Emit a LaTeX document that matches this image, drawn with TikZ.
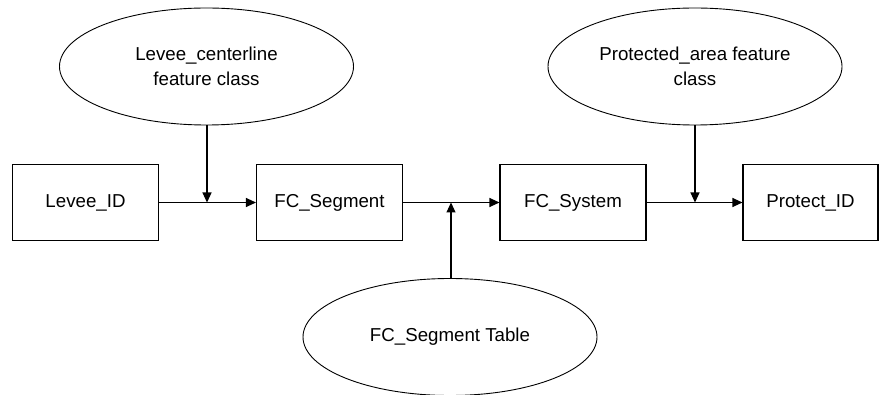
\documentclass[tikz,border=0pt]{standalone}
\usepackage{fontspec}
\setmainfont{Liberation Sans}
\usetikzlibrary{shapes.geometric,arrows.meta}
\begin{document}
\begin{tikzpicture}[x=1pt,y=-1pt,
  box/.style={draw,line width=1.1pt,minimum width=146pt,minimum height=76pt,inner sep=0pt,font=\fontsize{18.7}{22}\selectfont},
  oval/.style={draw,ellipse,line width=0.9pt,minimum width=294pt,minimum height=117pt,inner sep=0pt,align=center,font=\fontsize{18.7}{25}\selectfont},
  conn/.style={line width=1.1pt,-{Triangle[length=10pt,width=9pt]}},
  plain/.style={line width=1.1pt}]
\useasboundingbox (0,0) rectangle (882,395);
\node[box] (levee) at (85.5,202.5) {Levee\_ID};
\node[box] (seg) at (329.5,202.5) {FC\_Segment};
\node[box] (sys) at (573,202.5) {FC\_System};
\node[box,minimum width=135pt] (prot) at (810.5,202.5) {Protect\_ID};
\node[oval] (lc) at (206.5,66.5) {Levee\_centerline\\feature class};
\node[oval] (pa) at (695,66.5) {Protected\_area feature\\class};
\node[oval] (tab) at (450,337) {FC\_Segment Table};
\coordinate (j1) at (207,202.5);
\coordinate (j2) at (451,202.5);
\coordinate (j3) at (695,202.5);
\draw[conn] (levee.east) -- (seg.west);
\draw[conn] (seg.east) -- (sys.west);
\draw[conn] (sys.east) -- (prot.west);
\draw[conn] (lc.south -| j1) -- (j1);
\draw[conn] (tab.north -| j2) -- (j2);
\draw[conn] (pa.south -| j3) -- (j3);
\end{tikzpicture}
\end{document}
